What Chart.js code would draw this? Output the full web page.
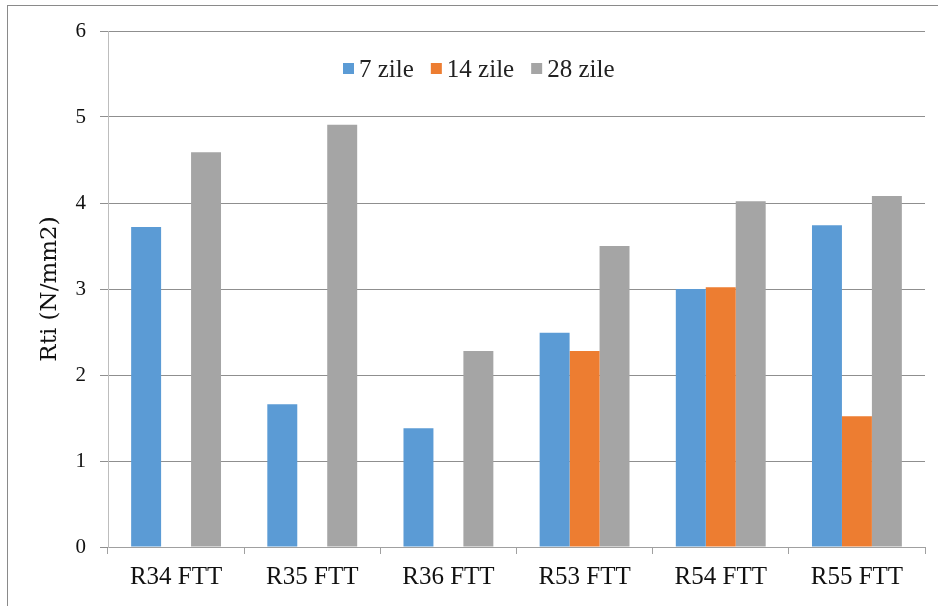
<!DOCTYPE html>
<html>
<head>
<meta charset="utf-8">
<script src="https://cdn.jsdelivr.net/npm/chart.js@4.4.1/dist/chart.umd.min.js"></script>
<style>
  html, body { margin: 0; padding: 0; background: #fff; }
  #wrap { position: relative; width: 938px; height: 606px; overflow: hidden; }
  #frame { position: absolute; left: 7px; top: 5px; width: 1000px; height: 700px;
           border-left: 1px solid #8a8a8a; border-top: 1px solid #8a8a8a; pointer-events: none; }
</style>
</head>
<body>
<div id="wrap">
  <canvas id="chart"></canvas>
  <div id="frame"></div>
</div>
<script>
const categories = ['R34 FTT', 'R35 FTT', 'R36 FTT', 'R53 FTT', 'R54 FTT', 'R55 FTT'];
const seriesNames = ['7 zile', '14 zile', '28 zile'];
const zile7 = [3.72, 1.66, 1.38, 2.49, 3.00, 3.74];
const zile14 = [null, null, null, 2.28, 3.02, 1.52];
const zile28 = [4.59, 4.91, 2.28, 3.50, 4.02, 4.08];
const colors = ['#5B9BD5', '#ED7D31', '#A5A5A5'];
const yTicks = [0, 1, 2, 3, 4, 5, 6];

const serif = '"Liberation Serif", "Times New Roman", serif';

// legend sits inside the plot, drawn by hand like the original
const insideLegend = {
    id: 'insideLegend',
    afterDraw(chart) {
        const ctx = chart.ctx;
        ctx.save();
        ctx.font = '25px ' + serif;
        ctx.textBaseline = 'middle';
        ctx.textAlign = 'left';
        let x = 343;
        const y = 69;
        chart.data.datasets.forEach((ds) => {
            ctx.fillStyle = ds.backgroundColor;
            ctx.fillRect(x, y - 6, 11, 11);
            x += 16;
            ctx.fillStyle = '#222';
            ctx.fillText(ds.label, x, y + 1);
            x += ctx.measureText(ds.label).width + 17;
        });
        ctx.restore();
    }
};

const series = [zile7, zile14, zile28];

new Chart(document.getElementById('chart').getContext('2d'), {
    type: 'bar',
    data: {
        labels: categories,
        datasets: series.map((values, i) => ({
            label: seriesNames[i],
            data: values,
            backgroundColor: colors[i],
            borderWidth: 0,
            categoryPercentage: 0.66,
            barPercentage: 1,
        })),
    },
    options: {
        responsive: true,
        maintainAspectRatio: false,
        animation: false,
        layout: { padding: { top: 31, right: 13, left: 0, bottom: 0 } },
        plugins: {
            legend: { display: false },
            tooltip: { enabled: false },
        },
        scales: {
            x: {
                afterFit: (s) => { s.height = 59; },
                grid: {
                    drawOnChartArea: false,
                    drawTicks: true,
                    tickLength: 7,
                    color: '#a0a0a0',
                },
                border: { color: '#a0a0a0' },
                ticks: {
                    color: '#111',
                    font: { family: serif, size: 25 },
                    padding: 8,
                },
            },
            y: {
                min: 0,
                max: 6,
                afterFit: (s) => { s.width = 108; },
                afterBuildTicks: (s) => { s.ticks = yTicks.map((v) => ({ value: v })); },
                grid: { color: '#8f8f8f', tickLength: 8 },
                border: { color: '#bdbdbd' },
                ticks: {
                    color: '#111',
                    font: { family: serif, size: 21 },
                    padding: 14,
                },
                title: {
                    display: true,
                    text: 'Rti (N/mm2)',
                    color: '#111',
                    font: { family: '"DejaVu Serif", serif', size: 23 },
                    padding: { top: 36, bottom: 0 },
                },
            },
        },
    },
    plugins: [insideLegend],
});
</script>
</body>
</html>
